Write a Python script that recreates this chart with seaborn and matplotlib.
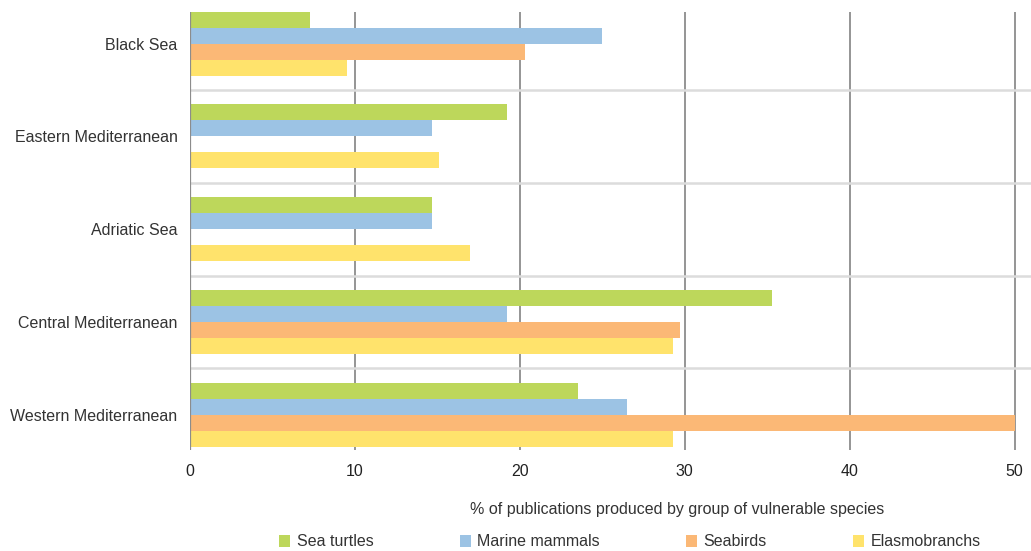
import pandas as pd
import seaborn as sns
import matplotlib.pyplot as plt
from matplotlib.patches import Patch

# 数据
regions = ['Black Sea', 'Eastern Mediterranean', 'Adriatic Sea',
           'Central Mediterranean', 'Western Mediterranean']
groups = ['Sea turtles', 'Marine mammals', 'Seabirds', 'Elasmobranchs']
sea_turtles = [7.3, 19.2, 14.7, 35.3, 23.5]
marine_mammals = [25.0, 14.7, 14.7, 19.2, 26.5]
seabirds = [20.3, 0.0, 0.0, 29.7, 50.0]
elasmobranchs = [9.5, 15.1, 17.0, 29.3, 29.3]
x_ticks = [0, 10, 20, 30, 40, 50]

colors = ['#bdd75b', '#9cc3e4', '#fbb876', '#ffe36c']

df = pd.DataFrame({
    'region': regions * 4,
    'group': [g for g in groups for _ in regions],
    'value': sea_turtles + marine_mammals + seabirds + elasmobranchs,
})

sns.set_style('white')
plt.rcParams['font.family'] = ['Liberation Sans', 'DejaVu Sans']

fig = plt.figure(figsize=(10.31, 5.51), dpi=100)
ax = fig.add_axes([190 / 1031, 1 - 450 / 551, 1 - 190 / 1031, (450 - 12) / 551])

sns.barplot(data=df, y='region', x='value', hue='group', order=regions,
            hue_order=groups, palette=colors, orient='h', width=0.69,
            dodge=True, saturation=1, edgecolor='none', legend=False, ax=ax)

# 网格线
for xv in x_ticks[1:]:
    ax.axvline(xv, color='#8c8c8c', lw=1.3, zorder=0)
ax.axvline(0, color='#8c8c8c', lw=1.6, zorder=3)
for i in range(len(regions) - 1):
    ax.axhline(i + 0.5, color='#dcdcdc', lw=1.8, zorder=0)

ax.set_xlim(0, 51)
ax.set_ylim(4.38, -0.34)
ax.set_xticks(x_ticks)
ax.tick_params(axis='x', length=0, pad=10, labelsize=11.5, labelcolor='#222222')
ax.tick_params(axis='y', length=0, pad=9, labelsize=11.5, labelcolor='#333333')
for s in ax.spines.values():
    s.set_visible(False)

ax.set_ylabel('')
ax.set_xlabel('% of publications produced by group of vulnerable species',
              fontsize=11.5, color='#333333')
ax.xaxis.set_label_coords(0.579, -0.118)

handles = [Patch(facecolor=c, edgecolor='none', label=g) for c, g in zip(colors, groups)]
fig.legend(handles=handles, loc='center', bbox_to_anchor=(630 / 1031, 1 - 542 / 551),
           ncol=4, frameon=False, fontsize=11.5, handlelength=0.7, handleheight=0.7,
           handletextpad=0.4, columnspacing=5.4, labelcolor='#333333')

plt.savefig('out.png', dpi=100)
plt.close()
